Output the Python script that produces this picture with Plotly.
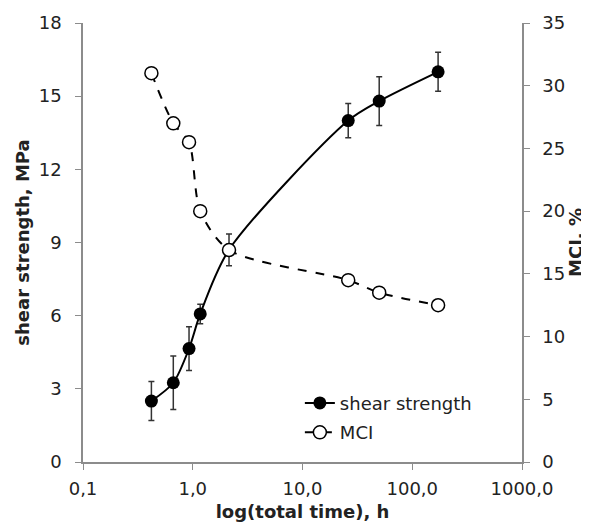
import plotly.graph_objects as go

time_h = [0.42, 0.665, 0.925, 1.17, 2.14, 26.1, 50.0, 172.0]
shear_strength = [2.5, 3.25, 4.65, 6.07, 8.7, 14.0, 14.8, 16.0]
shear_err = [0.8, 1.1, 0.9, 0.4, 0.65, 0.7, 1.0, 0.8]
mci = [31.0, 27.0, 25.5, 20.0, 16.9, 14.5, 13.5, 12.5]

x_tickvals = [0.1, 1, 10, 100, 1000]
x_ticktext = ["0,1", "1,0", "10,0", "100,0", "1000,0"]
y1_ticks = [0, 3, 6, 9, 12, 15, 18]
y2_ticks = [0, 5, 10, 15, 20, 25, 30, 35]

FONT = "DejaVu Sans"
AXC = "#8c8c8c"
TXT = "#222222"

fig = go.Figure()
fig.add_trace(go.Scatter(
    x=time_h, y=shear_strength, name="shear strength", mode="lines+markers",
    line=dict(color="black", width=2, shape="spline", smoothing=0.8),
    marker=dict(symbol="circle", size=13, color="black"),
    error_y=dict(type="data", array=shear_err, visible=True, color="#333333", thickness=1.5, width=3),
    yaxis="y", legendgroup="a",
))
fig.add_trace(go.Scatter(
    x=time_h, y=mci, name="MCI", mode="lines+markers",
    line=dict(color="black", width=2, dash="dash", shape="spline", smoothing=0.8),
    marker=dict(symbol="circle", size=13, color="white", line=dict(color="black", width=1.5)),
    yaxis="y2", legendgroup="b",
))

fig.update_layout(
    width=581, height=522,
    margin=dict(l=75, r=67, t=15, b=68),
    paper_bgcolor="white", plot_bgcolor="white",
    font=dict(family=FONT, size=18, color=TXT),
    showlegend=True,
    legend=dict(x=0.494, y=0.176, xanchor="left", yanchor="top", bgcolor="rgba(0,0,0,0)",
                font=dict(family=FONT, size=18, color=TXT), itemwidth=30,
                tracegroupgap=3),
    xaxis=dict(type="log", range=[-1, 3], tickvals=x_tickvals, ticktext=x_ticktext,
               showline=True, linecolor=AXC, linewidth=1.5, ticks="outside", ticklen=6,
               tickcolor=AXC, showgrid=False, zeroline=False, automargin=False,
               ticklabelstandoff=4,
               title=dict(text="<b>log(total time), h</b>", standoff=7,
                          font=dict(family=FONT, size=18, color=TXT))),
    yaxis=dict(range=[0, 18], tickvals=y1_ticks, showline=True, linecolor=AXC, linewidth=1.5,
               ticks="outside", ticklen=6, tickcolor=AXC, showgrid=False, zeroline=False,
               automargin=False, ticklabelstandoff=10,
               title=dict(text="<b>shear strength, MPa</b>", standoff=4,
                          font=dict(family=FONT, size=18, color=TXT))),
    yaxis2=dict(range=[0, 35], tickvals=y2_ticks, overlaying="y", side="right",
                showline=True, linecolor=AXC, linewidth=1.5, ticks="outside", ticklen=6,
                tickcolor=AXC, showgrid=False, zeroline=False, automargin=False,
                ticklabelstandoff=9,
                title=dict(text="<b>MCI, %</b>", standoff=3,
                           font=dict(family=FONT, size=18, color=TXT))),
)

fig.write_html("out.html")
